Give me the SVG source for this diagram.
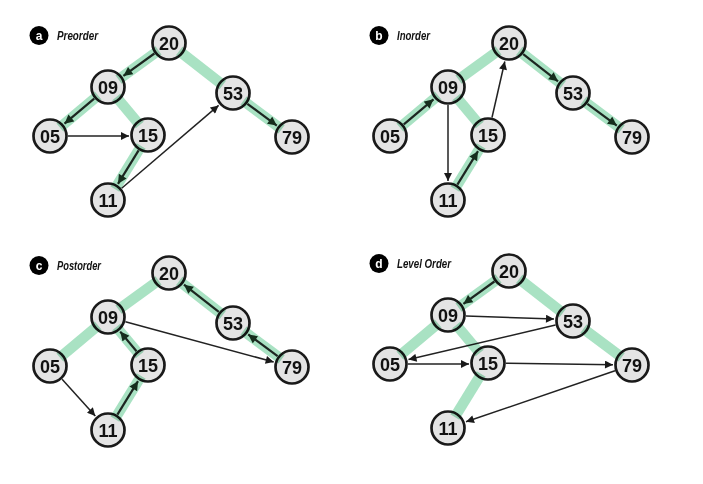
<svg xmlns="http://www.w3.org/2000/svg" width="703" height="484" viewBox="0 0 703 484">
<style>
.band{stroke:#a9e2c3;stroke-width:10.5;fill:none;mix-blend-mode:multiply}
.tr{stroke:#2a2a2a;stroke-width:2.2;fill:none}
.bk{stroke:#222;stroke-width:1.5;fill:none}
.node circle{fill:#e4e4e4;stroke:#1a1a1a;stroke-width:2.7}
.node text{font-family:"Liberation Sans",Arial,sans-serif;font-weight:bold;font-size:18px;text-anchor:middle;fill:#111}
.badge{fill:#000}
.bl{font-family:"Liberation Sans",Arial,sans-serif;font-weight:bold;font-size:12px;text-anchor:middle;fill:#fff}
.lbl{font-family:"Liberation Sans",Arial,sans-serif;font-style:italic;font-weight:bold;font-size:12.5px;fill:#111}
</style>
<defs>
<marker id="ah" viewBox="0 0 10 10" refX="10" refY="5" markerWidth="10" markerHeight="8" markerUnits="userSpaceOnUse" orient="auto"><path d="M0,0L10,5L0,10z" fill="#1a1a1a"/></marker>
<marker id="ahg" viewBox="0 0 10 10" refX="10" refY="5" markerWidth="10" markerHeight="9" markerUnits="userSpaceOnUse" orient="auto"><path d="M0,0L10,5L0,10z" fill="#1f3326"/></marker>
<g id="nodes">
<g class="node"><circle cx="169" cy="43" r="16.5"/><text x="169" y="49.5">20</text></g>
<g class="node"><circle cx="108" cy="87" r="16.5"/><text x="108" y="93.5">09</text></g>
<g class="node"><circle cx="233" cy="93" r="16.5"/><text x="233" y="99.5">53</text></g>
<g class="node"><circle cx="50" cy="136" r="16.5"/><text x="50" y="142.5">05</text></g>
<g class="node"><circle cx="148" cy="135" r="16.5"/><text x="148" y="141.5">15</text></g>
<g class="node"><circle cx="292" cy="137" r="16.5"/><text x="292" y="143.5">79</text></g>
<g class="node"><circle cx="108" cy="200" r="16.5"/><text x="108" y="206.5">11</text></g>
</g>
<g id="bands">
<line class="band" x1="158.5" y1="50.6" x2="118.5" y2="79.4"/>
<line class="band" x1="98.1" y1="95.4" x2="59.9" y2="127.6"/>
<line class="band" x1="116.3" y1="97" x2="139.7" y2="125"/>
<line class="band" x1="141.2" y1="146.1" x2="114.8" y2="188.9"/>
<line class="band" x1="179.2" y1="51" x2="222.8" y2="85"/>
<line class="band" x1="243.4" y1="100.8" x2="281.6" y2="129.2"/>
</g>
</defs>

<!-- Panel a: Preorder -->
<g id="panel-a">
<g id="a-title"><circle class="badge" cx="39" cy="35.5" r="9.5"/><text class="bl" x="39" y="39.8">a</text><text class="lbl" x="57" y="40" textLength="41" lengthAdjust="spacingAndGlyphs">Preorder</text></g>
<g id="a-connectors">
<line class="tr" x1="154.4" y1="53.5" x2="123.4" y2="75.9" marker-end="url(#ahg)"/>
<line class="tr" x1="94.2" y1="98.6" x2="64.5" y2="123.7" marker-end="url(#ahg)"/>
<line class="bk" x1="68" y1="136" x2="129" y2="136" marker-end="url(#ah)"/>
<line class="tr" x1="138.6" y1="150.3" x2="118" y2="183.8" marker-end="url(#ahg)"/>
<line class="bk" x1="121.7" y1="188.3" x2="218.6" y2="105.4" marker-end="url(#ah)"/>
<line class="tr" x1="247.4" y1="103.8" x2="276.8" y2="125.6" marker-end="url(#ahg)"/>
</g>
<g id="a-nodes"><use href="#nodes"/></g>
<g id="a-bands"><use href="#bands"/></g>
</g>

<!-- Panel b: Inorder -->
<g id="panel-b" transform="translate(340,0)">
<g id="b-title"><circle class="badge" cx="39" cy="35.5" r="9.5"/><text class="bl" x="39" y="39.8">b</text><text class="lbl" x="57" y="40" textLength="33" lengthAdjust="spacingAndGlyphs">Inorder</text></g>
<g id="b-connectors">
<line class="tr" x1="63.8" y1="124.4" x2="93.5" y2="99.3" marker-end="url(#ahg)"/>
<line class="bk" x1="108" y1="105" x2="108" y2="181" marker-end="url(#ah)"/>
<line class="tr" x1="117.4" y1="184.7" x2="138" y2="151.2" marker-end="url(#ahg)"/>
<line class="bk" x1="152" y1="117.5" x2="164.8" y2="61.5" marker-end="url(#ah)"/>
<line class="tr" x1="183.2" y1="54.1" x2="218" y2="81.3" marker-end="url(#ahg)"/>
<line class="tr" x1="247.4" y1="103.8" x2="276.8" y2="125.6" marker-end="url(#ahg)"/>
</g>
<g id="b-nodes"><use href="#nodes"/></g>
<g id="b-bands"><use href="#bands"/></g>
</g>

<!-- Panel c: Postorder -->
<g id="panel-c" transform="translate(0,230)">
<g id="c-title"><circle class="badge" cx="39" cy="35.5" r="9.5"/><text class="bl" x="39" y="39.8">c</text><text class="lbl" x="57" y="40" textLength="44" lengthAdjust="spacingAndGlyphs">Postorder</text></g>
<g id="c-connectors">
<line class="bk" x1="62.1" y1="149.3" x2="95.3" y2="185.9" marker-end="url(#ah)"/>
<line class="tr" x1="117.4" y1="184.7" x2="138" y2="151.2" marker-end="url(#ahg)"/>
<line class="tr" x1="136.5" y1="121.2" x2="120.2" y2="101.6" marker-end="url(#ahg)"/>
<line class="bk" x1="125.4" y1="91.7" x2="273.7" y2="132" marker-end="url(#ah)"/>
<line class="tr" x1="277.6" y1="126.2" x2="248.2" y2="104.4" marker-end="url(#ahg)"/>
<line class="tr" x1="218.8" y1="81.9" x2="184" y2="54.7" marker-end="url(#ahg)"/>
</g>
<g id="c-nodes"><use href="#nodes"/></g>
<g id="c-bands"><use href="#bands"/></g>
</g>

<!-- Panel d: Level Order -->
<g id="panel-d" transform="translate(340,228)">
<g id="d-title"><circle class="badge" cx="39" cy="35.5" r="9.5"/><text class="bl" x="39" y="39.8">d</text><text class="lbl" x="57" y="40" textLength="54" lengthAdjust="spacingAndGlyphs">Level Order</text></g>
<g id="d-connectors">
<line class="tr" x1="154.4" y1="53.5" x2="123.4" y2="75.9" marker-end="url(#ahg)"/>
<line class="bk" x1="126" y1="88" x2="214" y2="91" marker-end="url(#ah)"/>
<line class="bk" x1="215.5" y1="97.1" x2="68.5" y2="131.6" marker-end="url(#ah)"/>
<line class="bk" x1="68" y1="136" x2="129" y2="136" marker-end="url(#ah)"/>
<line class="bk" x1="166" y1="135.3" x2="273" y2="136.7" marker-end="url(#ah)"/>
<line class="bk" x1="275" y1="142.8" x2="126" y2="193.8" marker-end="url(#ah)"/>
</g>
<g id="d-nodes"><use href="#nodes"/></g>
<g id="d-bands"><use href="#bands"/></g>
</g>
</svg>
